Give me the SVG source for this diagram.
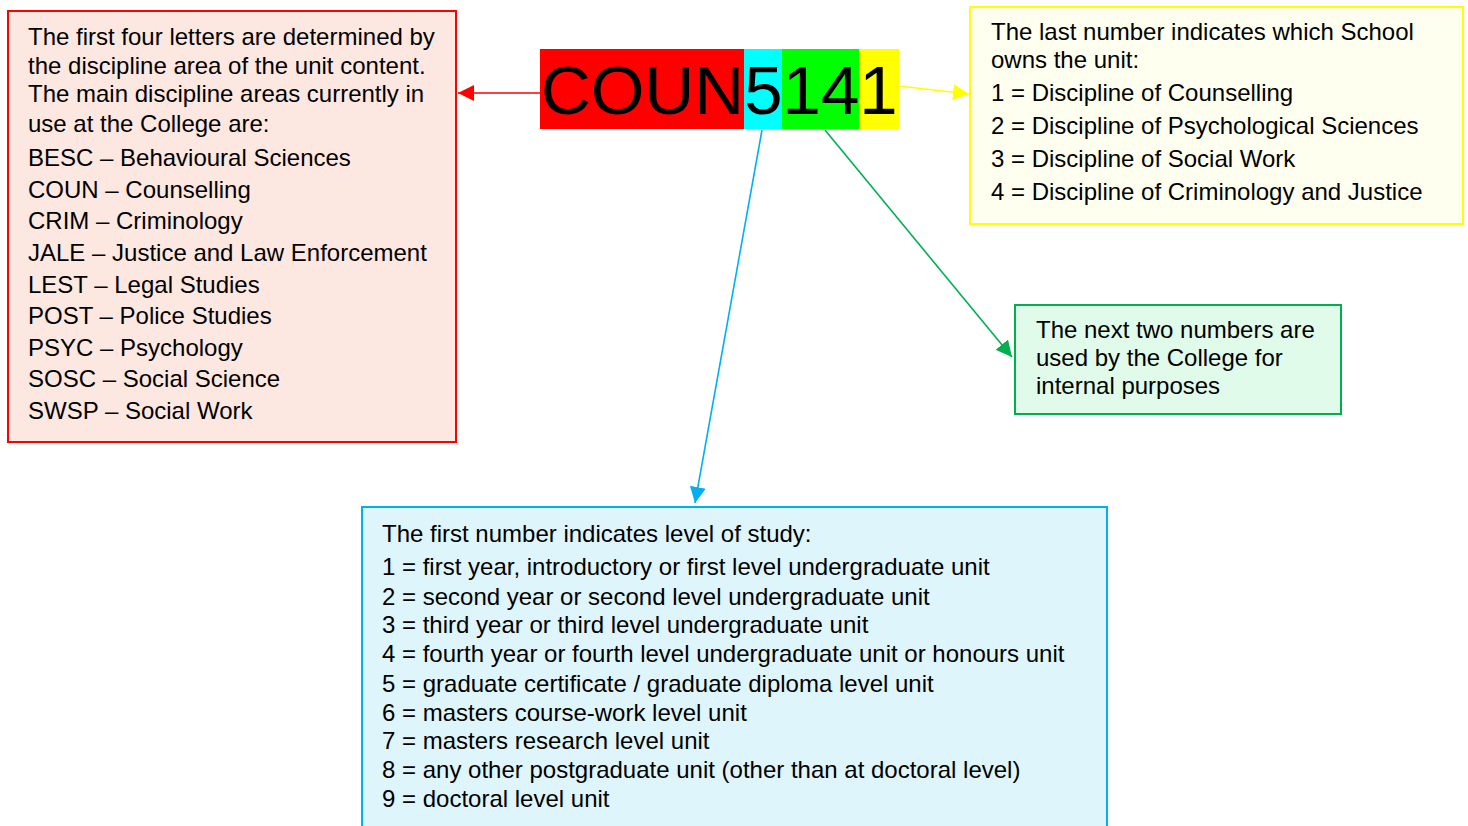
<svg xmlns="http://www.w3.org/2000/svg" width="1468" height="826" viewBox="0 0 1468 826">
<style>
text{font-family:"Liberation Sans",Arial,sans-serif;font-size:24px;fill:#000}
.code{font-size:69px}
.conn line{stroke-width:1.6}
</style>
<defs>
<marker id="aR" viewBox="0 0 10 10" refX="10" refY="5" markerWidth="16" markerHeight="16" markerUnits="userSpaceOnUse" orient="auto"><path d="M0,0L10,5L0,10z" fill="#ff0000"/></marker>
<marker id="aY" viewBox="0 0 10 10" refX="10" refY="5" markerWidth="16" markerHeight="16" markerUnits="userSpaceOnUse" orient="auto"><path d="M0,0L10,5L0,10z" fill="#ffff00"/></marker>
<marker id="aB" viewBox="0 0 10 10" refX="10" refY="5" markerWidth="16" markerHeight="16" markerUnits="userSpaceOnUse" orient="auto"><path d="M0,0L10,5L0,10z" fill="#00b0f0"/></marker>
<marker id="aG" viewBox="0 0 10 10" refX="10" refY="5" markerWidth="16" markerHeight="16" markerUnits="userSpaceOnUse" orient="auto"><path d="M0,0L10,5L0,10z" fill="#00b050"/></marker>
</defs>
<rect width="1468" height="826" fill="#fff"/>
<g id="code">
<rect x="540" y="49" width="204" height="80" fill="#ff0000"/>
<rect x="744" y="49" width="38" height="80" fill="#00ffff"/>
<rect x="782" y="49" width="77" height="80" fill="#00ff00"/>
<rect x="859" y="49" width="40" height="80" fill="#ffff00"/>
<text class="code" x="541" y="114">COUN5141</text>
</g>
<g id="letters">
<rect x="8" y="11" width="448" height="431" fill="#fce8e0" stroke="#ff0000" stroke-width="2"/>
<text x="28" y="45">The first four letters are determined by</text>
<text x="28" y="74">the discipline area of the unit content.</text>
<text x="28" y="102">The main discipline areas currently in</text>
<text x="28" y="132">use at the College are:</text>
<text x="28" y="166">BESC – Behavioural Sciences</text>
<text x="28" y="198">COUN – Counselling</text>
<text x="28" y="229">CRIM – Criminology</text>
<text x="28" y="261">JALE – Justice and Law Enforcement</text>
<text x="28" y="293">LEST – Legal Studies</text>
<text x="28" y="324">POST – Police Studies</text>
<text x="28" y="356">PSYC – Psychology</text>
<text x="28" y="387">SOSC – Social Science</text>
<text x="28" y="419">SWSP – Social Work</text>
</g>
<g id="school">
<rect x="970" y="7" width="493" height="217" fill="#fffff0" stroke="#ffff00" stroke-width="2"/>
<text x="991" y="40">The last number indicates which School</text>
<text x="991" y="68">owns the unit:</text>
<text x="991" y="101">1 = Discipline of Counselling</text>
<text x="991" y="134">2 = Discipline of Psychological Sciences</text>
<text x="991" y="167">3 = Discipline of Social Work</text>
<text x="991" y="200">4 = Discipline of Criminology and Justice</text>
</g>
<g id="internal">
<rect x="1015" y="305" width="326" height="109" fill="#e0fbea" stroke="#00b050" stroke-width="2"/>
<text x="1036" y="338">The next two numbers are</text>
<text x="1036" y="366">used by the College for</text>
<text x="1036" y="394">internal purposes</text>
</g>
<g id="level">
<rect x="362" y="507" width="745" height="330" fill="#dff5fc" stroke="#00b0f0" stroke-width="2"/>
<text x="382" y="542">The first number indicates level of study:</text>
<text x="382" y="575">1 = first year, introductory or first level undergraduate unit</text>
<text x="382" y="605">2 = second year or second level undergraduate unit</text>
<text x="382" y="633">3 = third year or third level undergraduate unit</text>
<text x="382" y="662">4 = fourth year or fourth level undergraduate unit or honours unit</text>
<text x="382" y="692">5 = graduate certificate / graduate diploma level unit</text>
<text x="382" y="721">6 = masters course-work level unit</text>
<text x="382" y="749">7 = masters research level unit</text>
<text x="382" y="778">8 = any other postgraduate unit (other than at doctoral level)</text>
<text x="382" y="807">9 = doctoral level unit</text>
</g>
<g id="connectors" class="conn">
<line x1="540" y1="93" x2="458" y2="93" stroke="#ff0000" marker-end="url(#aR)"/>
<line x1="899" y1="86" x2="969" y2="94" stroke="#ffff00" marker-end="url(#aY)"/>
<line x1="762" y1="130" x2="695" y2="503" stroke="#00b0f0" marker-end="url(#aB)"/>
<line x1="825" y1="130" x2="1012" y2="357" stroke="#00b050" marker-end="url(#aG)"/>
</g>
</svg>
